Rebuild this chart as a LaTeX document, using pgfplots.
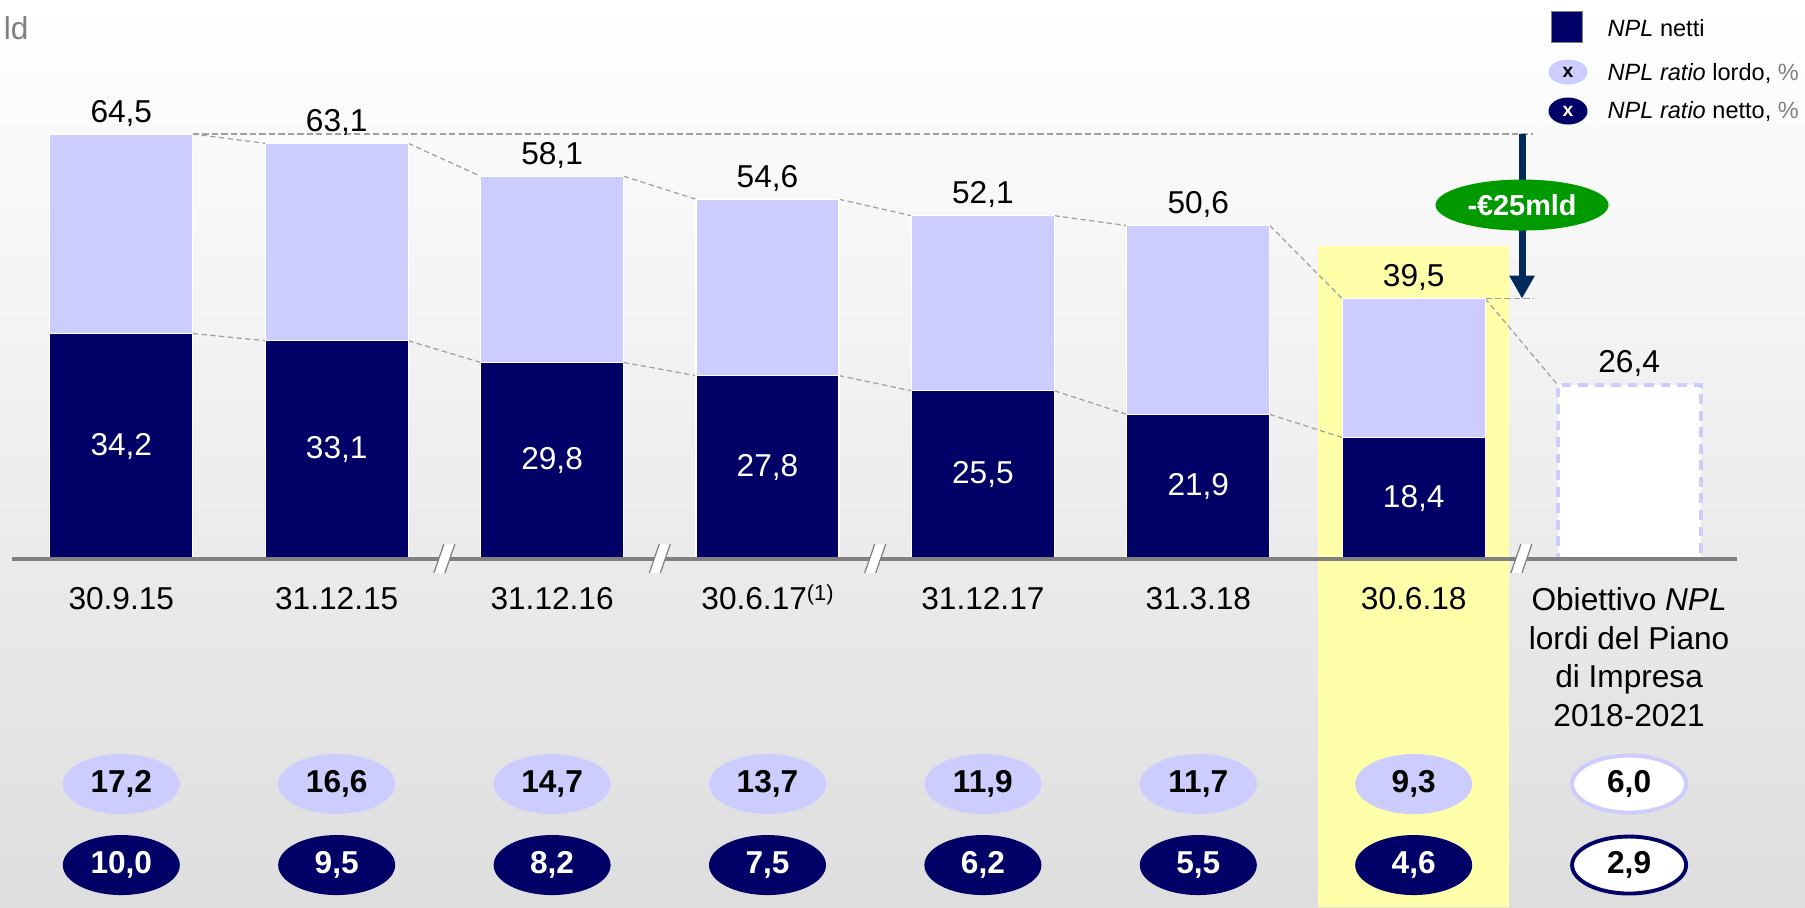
\documentclass[border=0pt]{standalone}
\usepackage{pgfplots}
\pgfplotsset{compat=1.18}
\usepackage{pgfplotstable}
\usepackage{fontspec}
\setmainfont{Liberation Sans}
\usetikzlibrary{shapes.geometric, arrows.meta}
\definecolor{navy}{HTML}{000066}
\definecolor{lav}{HTML}{CCCCFF}
\definecolor{hl}{HTML}{FFFFAA}
\definecolor{arrowc}{HTML}{002A5C}
\definecolor{grn}{HTML}{009900}
\definecolor{axisgray}{HTML}{808080}
\definecolor{dashgray}{HTML}{A0A0A0}

\pgfplotstableread{
x total dark lordo netto
0 64.5 34.2 17.2 10.0
1 63.1 33.1 16.6 9.5
2 58.1 29.8 14.7 8.2
3 54.6 27.8 13.7 7.5
4 52.1 25.5 11.9 6.2
5 50.6 21.9 11.7 5.5
6 39.5 18.4 9.3 4.6
}\npldata
\pgfplotstableread{
x total lordo netto
7 26.4 6.0 2.9
}\target

\newcommand{\lbl}{\fontsize{9}{11}\selectfont}
\newcommand{\leg}{\fontsize{6.7}{8}\selectfont}
\newcommand{\numfmt}{\pgfmathprintnumber[fixed,fixed zerofill,precision=1,use comma,assume math mode=true]{\pgfplotspointmeta}}

\begin{document}
\begin{tikzpicture}
\begin{axis}[
  set layers,
  scale only axis, width=180.5mm, height=90.7mm,
  xmin=-0.5631, xmax=7.8166, ymin=-52.96, ymax=84.88,
  axis x line=middle, axis y line=none,
  hide obscured x ticks=false,
  x axis line style={draw=none},
  major tick length=0pt, ytick=\empty,
  xtick={0,1,2,3,4,5,6,7},
  xticklabels={30.9.15,31.12.15,31.12.16,{30.6.17\smash{\raisebox{2.6pt}{\fontsize{6.2}{6.2}\selectfont(1)}}},31.12.17,31.3.18,30.6.18,{Obiettivo \textit{NPL}\\lordi del Piano\\di Impresa\\2018-2021}},
  xticklabel style={anchor=north, inner sep=0pt, yshift=-2.85mm, align=center, font=\lbl, text=black},
  axis background/.style={shade, top color=white, bottom color=black!13},
  clip=false,
  unbounded coords=jump,
]
\coordinate (BL) at (rel axis cs:0,0);
\coordinate (TR) at (rel axis cs:1,1);

% highlight
\addplot[on layer=axis background, fill=hl, draw=none] coordinates {(5.556,-52.96) (6.442,-52.96) (6.442,47.49) (5.556,47.49)} \closedcycle;

% horizontal dashed reference lines
\addplot[dashgray, line width=0.45pt, dash pattern=on 1.8pt off 0.9pt] coordinates {(0.332,64.5) (6.554,64.5)};
\addplot[dashgray, line width=0.45pt, dash pattern=on 1.8pt off 0.9pt] coordinates {(6.332,39.5) (6.554,39.5)};

% connecting lines
\addplot[dashgray, line width=0.35pt, dash pattern=on 1.5pt off 1pt] coordinates {
 (0.332,64.5) (0.668,63.1) (1,nan)
 (1.332,63.1) (1.668,58.1) (2,nan)
 (2.332,58.1) (2.668,54.6) (3,nan)
 (3.332,54.6) (3.668,52.1) (4,nan)
 (4.332,52.1) (4.668,50.6) (5,nan)
 (5.332,50.6) (5.668,39.5) (6,nan)
 (6.332,39.5) (6.668,26.4)};
\addplot[dashgray, line width=0.35pt, dash pattern=on 1.5pt off 1pt] coordinates {
 (0.332,34.2) (0.668,33.1) (1,nan)
 (1.332,33.1) (1.668,29.8) (2,nan)
 (2.332,29.8) (2.668,27.8) (3,nan)
 (3.332,27.8) (3.668,25.5) (4,nan)
 (4.332,25.5) (4.668,21.9) (5,nan)
 (5.332,21.9) (5.668,18.4)};

% bars
\addplot[ybar, bar width=0.664, bar shift=0pt, fill=lav, draw=white, line width=0.3pt,
  point meta=y, nodes near coords=\numfmt,
  every node near coord/.style={anchor=base, yshift=1.2mm, inner sep=0pt, text=black, font=\lbl}]
  table[x=x, y=total] {\npldata};
\addplot[ybar, bar width=0.664, bar shift=0pt, fill=navy, draw=white, line width=0.3pt]
  table[x=x, y=dark] {\npldata};
\addplot[only marks, mark=none, point meta=explicit, nodes near coords=\numfmt,
  every node near coord/.style={anchor=center, inner sep=0pt, text=white, font=\lbl}]
  table[x=x, y expr=\thisrow{dark}/2, meta=dark] {\npldata};

% target bar
\addplot[ybar, bar width=0.664, bar shift=0pt, fill=white, draw=lav, line width=1.1pt, dash pattern=on 2.8pt off 1.9pt,
  point meta=y, nodes near coords=\numfmt,
  every node near coord/.style={anchor=base, yshift=1.2mm, inner sep=0pt, text=black, font=\lbl, solid}]
  table[x=x, y=total] {\target};

% axis line and breaks
\draw[axisgray, line width=0.4mm] (axis cs:-0.507,0) -- (axis cs:7.501,0);
\pgfplotsinvokeforeach{1.5,2.5,3.5,6.5}{
  \fill[white] ([shift={(-1.05mm,-1.45mm)}]axis cs:#1,0) -- ([shift={(0.05mm,-1.45mm)}]axis cs:#1,0)
     -- ([shift={(1.05mm,1.45mm)}]axis cs:#1,0) -- ([shift={(-0.05mm,1.45mm)}]axis cs:#1,0) -- cycle;
  \draw[axisgray, line width=0.35pt] ([shift={(-1.05mm,-1.45mm)}]axis cs:#1,0) -- ([shift={(-0.05mm,1.45mm)}]axis cs:#1,0);
  \draw[axisgray, line width=0.35pt] ([shift={(0.05mm,-1.45mm)}]axis cs:#1,0) -- ([shift={(1.05mm,1.45mm)}]axis cs:#1,0);
}

% ratio ellipses
\addplot[only marks, mark=none, point meta=explicit, nodes near coords=\numfmt,
  every node near coord/.style={anchor=center, ellipse, fill=lav, inner sep=0pt, minimum width=11.7mm, minimum height=6mm, text=black, font=\bfseries\lbl}]
  table[x=x, y expr=-34.27, meta=lordo] {\npldata};
\addplot[only marks, mark=none, point meta=explicit, nodes near coords=\numfmt,
  every node near coord/.style={anchor=center, ellipse, fill=navy, inner sep=0pt, minimum width=11.7mm, minimum height=6mm, text=white, font=\bfseries\lbl}]
  table[x=x, y expr=-46.58, meta=netto] {\npldata};
\addplot[only marks, mark=none, point meta=explicit, nodes near coords=\numfmt,
  every node near coord/.style={anchor=center, ellipse, fill=white, draw=lav, line width=1.1pt, inner sep=0pt, minimum width=11.4mm, minimum height=5.7mm, text=black, font=\bfseries\lbl}]
  table[x=x, y expr=-34.27, meta=lordo] {\target};
\addplot[only marks, mark=none, point meta=explicit, nodes near coords=\numfmt,
  every node near coord/.style={anchor=center, ellipse, fill=white, draw=navy, line width=1.1pt, inner sep=0pt, minimum width=11.4mm, minimum height=5.7mm, text=black, font=\bfseries\lbl}]
  table[x=x, y expr=-46.58, meta=netto] {\target};

% arrow and reduction label
\draw[arrowc, line width=0.7mm, -{Triangle[width=2.4mm,length=2.3mm]}] (axis cs:6.503,64.5) -- (axis cs:6.503,39.5);
\node[ellipse, fill=grn, text=white, inner sep=0pt, minimum width=17.3mm, minimum height=5.1mm, font=\bfseries\fontsize{8.2}{9}\selectfont] at (axis cs:6.503,53.72) {-€25mld};

% legend
\node[draw=axisgray, fill=navy, minimum size=3.1mm, inner sep=0pt, line width=0.4pt] at (axis description cs:0.8682,0.9702) {};
\node[anchor=base west, inner sep=0pt, font=\leg] at (axis description cs:0.8903,0.9603) {\textit{NPL} netti};
\node[ellipse, fill=lav, minimum width=3.9mm, minimum height=2.5mm, inner sep=0pt, font=\bfseries\fontsize{5.5}{6}\selectfont] at (axis description cs:0.8687,0.9206) {x};
\node[anchor=base west, inner sep=0pt, font=\leg] at (axis description cs:0.8903,0.9107) {\textit{NPL ratio} lordo, \textcolor{axisgray}{\%}};
\node[ellipse, fill=navy, text=white, minimum width=3.9mm, minimum height=2.7mm, inner sep=0pt, font=\bfseries\fontsize{5.5}{6}\selectfont] at (axis description cs:0.8687,0.8776) {x};
\node[anchor=base west, inner sep=0pt, font=\leg] at (axis description cs:0.8903,0.8688) {\textit{NPL ratio} netto, \textcolor{axisgray}{\%}};

% unit (cut off)
\node[anchor=base west, inner sep=0pt, text=black!50, font=\lbl] at (axis description cs:0.0017,0.9559) {ld};
\end{axis}
\pgfresetboundingbox
\path[use as bounding box] (BL) rectangle (TR);
\end{tikzpicture}
\end{document}
